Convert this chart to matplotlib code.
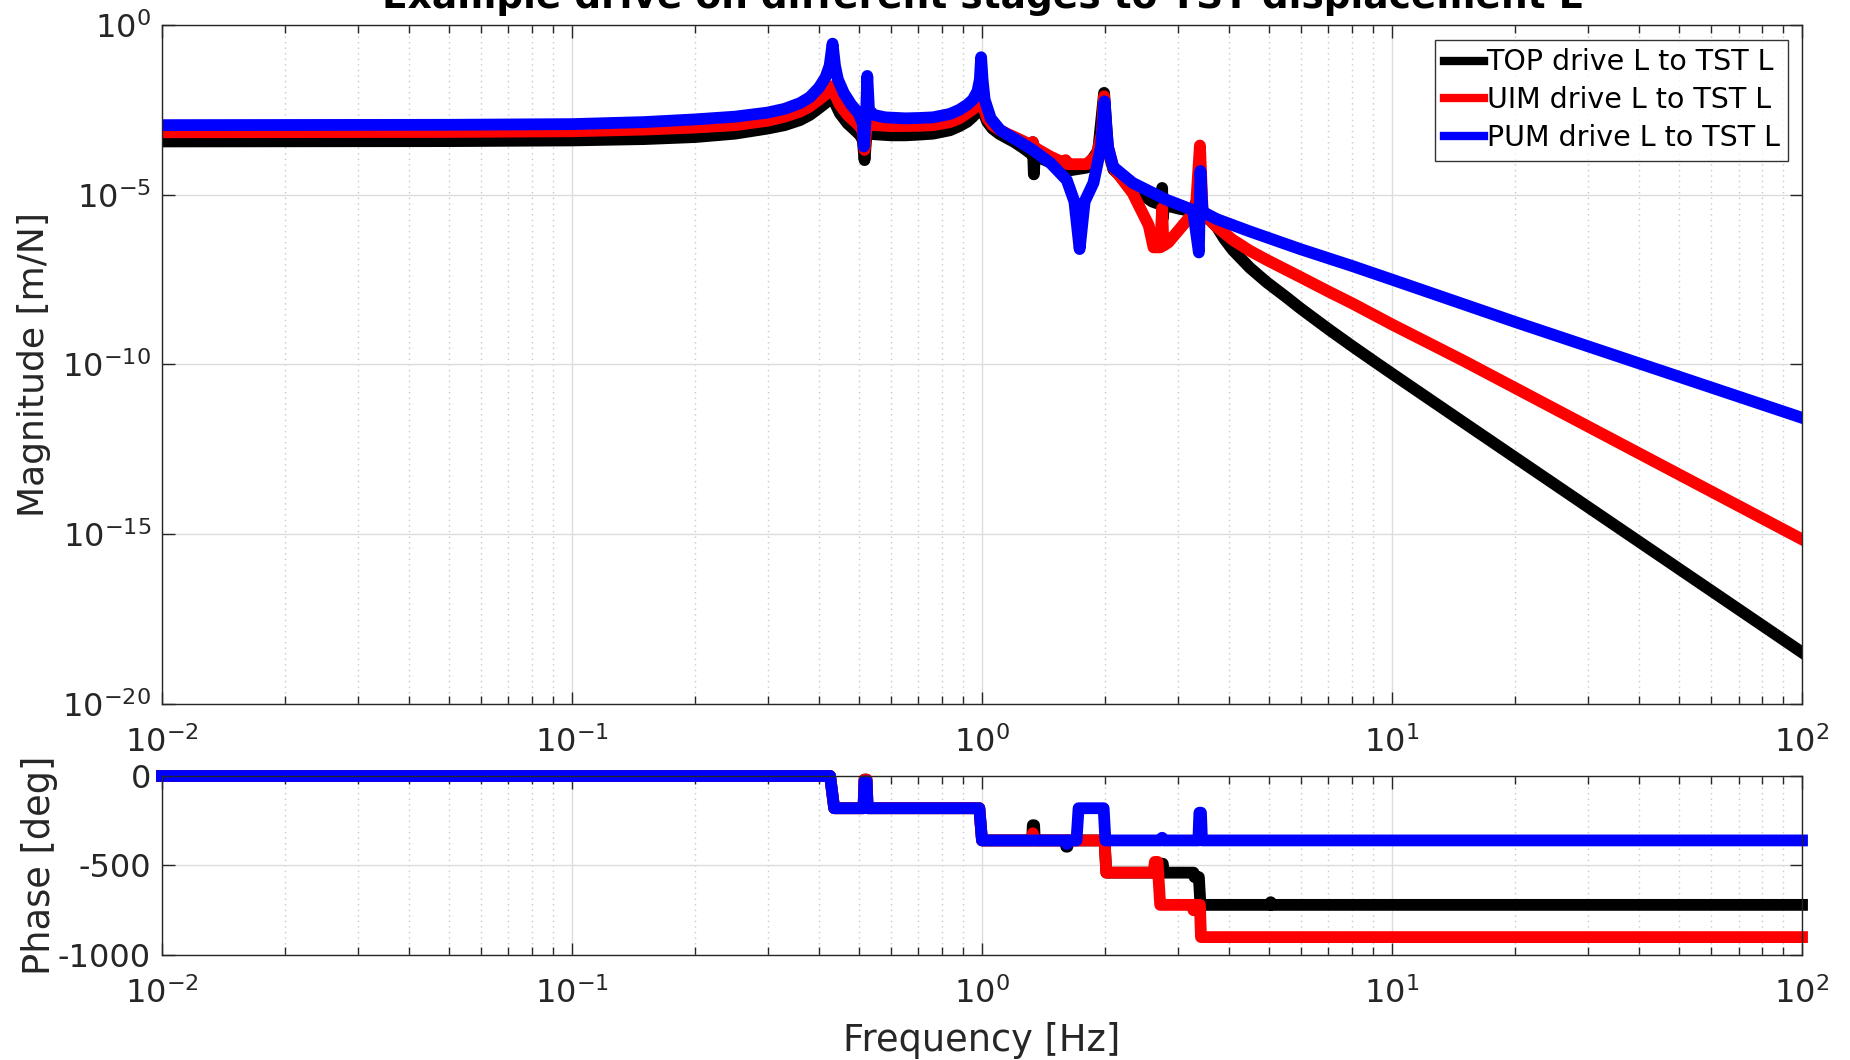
import numpy as np
import matplotlib
matplotlib.use('Agg')
import matplotlib.pyplot as plt
from matplotlib.ticker import LogLocator, FixedLocator, NullLocator, FuncFormatter

plt.rcParams['font.family'] = ['DejaVu Sans']
plt.rcParams['axes.unicode_minus'] = False

TITLE = 'Example drive on different stages to TST displacement L'
LABELS = ['TOP drive L to TST L', 'UIM drive L to TST L', 'PUM drive L to TST L']
COLORS = ['black', 'red', 'blue']

# magnitude as log10(|H|) at given frequencies [Hz]
top_mag_f = [0.01, 0.05, 0.1, 0.15, 0.2, 0.25, 0.3, 0.33, 0.36, 0.38, 0.40, 0.415, 0.425, 0.432,
             0.44, 0.45, 0.47, 0.49, 0.505, 0.512, 0.517, 0.522, 0.53, 0.55, 0.6, 0.65, 0.7, 0.76,
             0.835, 0.88, 0.92, 0.95, 0.975, 0.995, 1.01, 1.03, 1.06, 1.1, 1.15, 1.2, 1.26, 1.32,
             1.33, 1.338, 1.345, 1.47, 1.6, 1.8, 1.92, 1.985, 2.03, 2.09, 2.33, 2.6, 2.74, 2.75,
             2.76, 2.78, 3.0, 3.28, 3.32, 3.36, 3.40, 3.44, 3.6, 3.74, 3.9, 4.09, 4.5, 4.95,
             5.5, 6.0, 7.0, 8.0, 9.0, 10.0, 15.0, 100.0]
top_mag = [-3.43, -3.42, -3.40, -3.36, -3.30, -3.20, -3.05, -2.95, -2.80, -2.65, -2.45, -2.30, -2.18, -2.05,
           -2.35, -2.6, -2.9, -3.1, -3.25, -3.4, -3.98, -3.3, -3.2, -3.22, -3.25, -3.25, -3.23, -3.2,
           -3.1, -2.98, -2.85, -2.7, -2.55, -2.35, -2.6, -2.85, -3.05, -3.2, -3.33, -3.45, -3.62, -3.8,
           -3.45, -4.4, -3.85, -4.05, -4.3, -4.2, -3.7, -2.0, -3.7, -4.25, -4.8, -5.2, -5.3, -4.8,
           -5.7, -5.3, -5.4, -5.5, -5.25, -5.55, -5.3, -5.6, -5.75, -5.95, -6.3, -6.63, -7.15, -7.58,
           -8.0, -8.36, -8.96, -9.46, -9.89, -10.27, -11.72, -18.48]

uim_mag_f = [0.01, 0.05, 0.1, 0.15, 0.2, 0.25, 0.3, 0.33, 0.36, 0.38, 0.40, 0.415, 0.425, 0.432,
             0.44, 0.45, 0.47, 0.49, 0.505, 0.512, 0.517, 0.522, 0.53, 0.55, 0.6, 0.7, 0.76, 0.835,
             0.88, 0.92, 0.95, 0.975, 0.995, 1.01, 1.03, 1.06, 1.1, 1.15, 1.2, 1.26, 1.32, 1.33,
             1.34, 1.47, 1.59, 1.6, 1.62, 1.8, 1.9, 1.96, 1.985, 2.01, 2.09, 2.33, 2.55, 2.62,
             2.72, 2.75, 2.77, 2.85, 3.21, 3.32, 3.40, 3.45, 3.5, 3.74, 4.09, 4.5, 4.95, 5.97,
             7.0, 8.0, 10.0, 15.0, 100.0]
uim_mag = [-3.16, -3.15, -3.13, -3.08, -3.02, -2.95, -2.82, -2.7, -2.55, -2.4, -2.2, -2.05, -1.93, -1.8,
           -2.1, -2.35, -2.65, -2.85, -3.0, -3.15, -3.68, -3.05, -2.95, -2.95, -2.98, -2.97, -2.95, -2.86,
           -2.75, -2.6, -2.48, -2.35, -2.15, -2.45, -2.75, -2.95, -3.08, -3.2, -3.3, -3.42, -3.55, -3.45,
           -3.6, -3.88, -4.07, -3.98, -4.1, -4.1, -3.85, -3.2, -2.1, -3.4, -4.2, -4.95, -5.9, -6.55,
           -6.55, -5.4, -6.5, -6.4, -5.66, -5.5, -3.55, -5.4, -5.6, -5.95, -6.33, -6.65, -6.92, -7.42,
           -7.85, -8.2, -8.82, -9.9, -15.15]

pum_mag_f = [0.01, 0.05, 0.1, 0.15, 0.2, 0.25, 0.3, 0.33, 0.36, 0.38, 0.40, 0.415, 0.425, 0.432,
             0.438, 0.445, 0.46, 0.48, 0.50, 0.512, 0.515, 0.522, 0.525, 0.53, 0.545, 0.58, 0.65, 0.7,
             0.76, 0.835, 0.88, 0.92, 0.95, 0.975, 0.988, 0.995, 1.003, 1.015, 1.05, 1.107, 1.15, 1.2,
             1.33, 1.47, 1.61, 1.68, 1.73, 1.78, 1.87, 1.95, 1.97, 1.99, 2.01, 2.03, 2.09, 2.33,
             2.82, 3.27, 3.38, 3.41, 3.45, 3.74, 4.5, 5.97, 8.0, 10.0, 20.0, 100.0]
pum_mag = [-2.95, -2.94, -2.92, -2.86, -2.78, -2.7, -2.58, -2.47, -2.3, -2.13, -1.85, -1.55, -1.2, -0.55,
           -1.2, -1.6, -2.0, -2.35, -2.6, -2.9, -3.58, -2.5, -1.5, -2.5, -2.65, -2.72, -2.75, -2.74,
           -2.72, -2.62, -2.5, -2.35, -2.2, -1.95, -1.6, -0.95, -1.6, -2.2, -2.75, -3.09, -3.22, -3.35,
           -3.68, -4.07, -4.57, -5.2, -6.6, -5.2, -4.65, -3.6, -3.0, -2.25, -3.0, -3.6, -4.18, -4.65,
           -5.15, -5.45, -6.7, -4.3, -5.5, -5.72, -6.08, -6.6, -7.1, -7.5, -8.75, -11.57]

# phase [deg]
top_ph_f = [0.01, 0.426, 0.436, 0.514, 0.517, 0.523, 0.526, 0.985, 1.0, 1.325, 1.33, 1.34, 1.345,
            1.6, 1.605, 1.615, 1.62, 1.99, 2.01, 2.73, 2.745, 2.76, 2.775, 3.28, 3.30, 3.38, 3.41,
            5.05, 5.06, 5.08, 100.0]
top_ph = [0, 0, -180, -180, -20, -20, -180, -180, -360, -360, -275, -275, -360,
          -360, -395, -395, -360, -360, -540, -540, -490, -490, -540, -540, -565, -565, -720,
          -720, -705, -720, -720]

uim_ph_f = [0.01, 0.426, 0.436, 0.514, 0.517, 0.523, 0.526, 0.985, 1.0, 1.325, 1.33, 1.34,
            1.99, 2.01, 2.62, 2.64, 2.68, 2.72, 3.26, 3.28, 3.31, 3.40, 3.42, 100.0]
uim_ph = [0, 0, -180, -180, -20, -20, -180, -180, -360, -360, -320, -360,
          -360, -540, -540, -480, -480, -720, -720, -750, -720, -720, -900, -900]

pum_ph_f = [0.01, 0.426, 0.436, 0.514, 0.517, 0.523, 0.526, 0.985, 1.0, 1.6, 1.61, 1.62,
            1.70, 1.72, 1.98, 2.0, 2.73, 2.75, 2.77, 3.37, 3.39, 3.42, 3.44, 100.0]
pum_ph = [0, 0, -180, -180, -30, -30, -180, -180, -360, -360, -380, -360,
          -360, -180, -180, -360, -360, -345, -360, -360, -205, -205, -360, -360]

mags = [(top_mag_f, top_mag), (uim_mag_f, uim_mag), (pum_mag_f, pum_mag)]
phases = [(top_ph_f, top_ph), (uim_ph_f, uim_ph), (pum_ph_f, pum_ph)]

fig = plt.figure(figsize=(18.5, 10.6), dpi=100)
ax1 = fig.add_axes([0.08757, 0.33585, 0.88649, 0.64057])
ax2 = fig.add_axes([0.08757, 0.09906, 0.88649, 0.16887])

LW = 8.5
for (f, m), c, lab in zip(mags, COLORS, LABELS):
    ax1.loglog(f, 10.0 ** np.array(m), color=c, lw=LW, label=lab, solid_joinstyle='round')
for (f, p), c in zip(phases, COLORS):
    ax2.semilogx(f, p, color=c, lw=LW, solid_joinstyle='round', clip_on=False)

dec_fmt = FuncFormatter(lambda v, pos: r'$10^{%d}$' % int(round(np.log10(v))))

for ax in (ax1, ax2):
    ax.set_xlim(1e-2, 1e2)
    ax.xaxis.set_major_locator(LogLocator(base=10, numticks=10))
    ax.xaxis.set_minor_locator(LogLocator(base=10, subs=np.arange(2, 10), numticks=20))
    ax.xaxis.set_major_formatter(dec_fmt)
    ax.grid(True, which='major', color='#dcdcdc', lw=1, ls='-')
    ax.grid(True, which='minor', axis='x', color='#c8c8c8', lw=1, ls=(0, (1, 3)))
    ax.set_axisbelow(True)
    ax.tick_params(which='both', direction='in', top=True, right=True, colors='#262626',
                   labelsize=23, pad=16)
    ax.tick_params(which='major', length=9, width=1)
    ax.tick_params(which='minor', length=6, width=1)
    for s in ax.spines.values():
        s.set_color('#262626')
        s.set_linewidth(1)

ax1.set_ylim(1e-20, 1e0)
ax1.yaxis.set_major_locator(FixedLocator([1e-20, 1e-15, 1e-10, 1e-5, 1e0]))
ax1.yaxis.set_minor_locator(NullLocator())
ax1.yaxis.set_major_formatter(dec_fmt)
ax1.tick_params(axis='y', pad=8)
ax1.set_ylabel('Magnitude [m/N]', fontsize=26, color='#262626', labelpad=8)

ax2.set_ylim(-1000, 0)
ax2.set_yticks([-1000, -500, 0])
ax2.tick_params(axis='y', pad=8)
ax2.set_ylabel('Phase [deg]', fontsize=26.5, color='#262626', labelpad=0)
ax2.set_xlabel('Frequency [Hz]', fontsize=26.5, color='#262626', labelpad=9)

leg = ax1.legend(loc='upper right', bbox_to_anchor=(0.9915, 0.978), borderaxespad=0,
                 fontsize=20.5, frameon=True, fancybox=False, edgecolor='black',
                 handlelength=1.4, handletextpad=0.1, labelspacing=0.35, borderpad=0.3)
leg.get_frame().set_linewidth(1)
for h in leg.get_lines():
    h.set_linewidth(6)

fig.text(0.531, 0.9925, TITLE, ha='center', va='baseline', fontsize=27, fontweight='bold')

fig.savefig('out.png', dpi=100)
